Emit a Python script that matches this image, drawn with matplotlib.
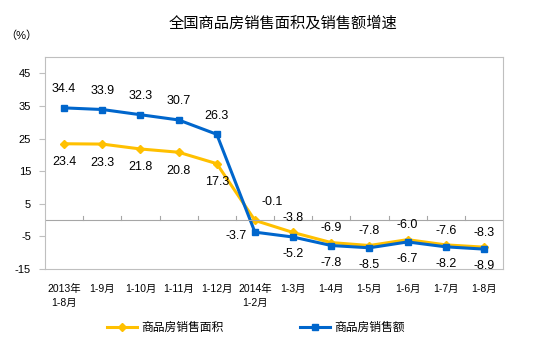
import numpy as np
import matplotlib
matplotlib.use('Agg')
import matplotlib.pyplot as plt

plt.rcParams['font.family'] = ['Liberation Sans', 'Noto Sans CJK SC']

categories = ['2013年\n1-8月', '1-9月', '1-10月', '1-11月', '1-12月', '2014年\n1-2月',
              '1-3月', '1-4月', '1-5月', '1-6月', '1-7月', '1-8月']
area = [23.4, 23.3, 21.8, 20.8, 17.3, -0.1, -3.8, -6.9, -7.8, -6.0, -7.6, -8.3]
sales = [34.4, 33.9, 32.3, 30.7, 26.3, -3.7, -5.2, -7.8, -8.5, -6.7, -8.2, -8.9]
yticks = [45, 35, 25, 15, 5, -5, -15]

yellow = '#FFC000'
blue = '#0066CC'

fig = plt.figure(figsize=(5.46, 3.41), dpi=100)
ax = fig.add_axes([45/546, 1 - 269/341, 458/546, (269 - 57)/341])

x = np.arange(len(categories))
ax.plot(x, area, color=yellow, lw=2.2, marker='D', ms=4.5, label='商品房销售面积')
ax.plot(x, sales, color=blue, lw=2.2, marker='s', ms=5, label='商品房销售额')

for i in range(len(x)):
    if i < 5:
        ax.annotate(f'{sales[i]:.1f}', (x[i], sales[i]), xytext=(0, 9), textcoords='offset points',
                    ha='center', va='bottom', fontsize=9)
        ax.annotate(f'{area[i]:.1f}', (x[i], area[i]), xytext=(0, -9), textcoords='offset points',
                    ha='center', va='top', fontsize=9)
    elif i == 5:
        ax.annotate(f'{area[i]:.1f}', (x[i], area[i]), xytext=(5, 9), textcoords='offset points',
                    ha='left', va='bottom', fontsize=9)
        ax.annotate(f'{sales[i]:.1f}', (x[i], sales[i]), xytext=(-6, -3), textcoords='offset points',
                    ha='right', va='center', fontsize=9)
    else:
        ax.annotate(f'{area[i]:.1f}', (x[i], area[i]), xytext=(0, 6), textcoords='offset points',
                    ha='center', va='bottom', fontsize=9)
        ax.annotate(f'{sales[i]:.1f}', (x[i], sales[i]), xytext=(0, -8), textcoords='offset points',
                    ha='center', va='top', fontsize=9)

ax.set_xlim(-0.5, len(x) - 0.5)
ax.set_ylim(-15, 50)
ax.set_yticks(yticks)
ax.set_yticklabels([str(v) for v in yticks], fontsize=8)
ax.tick_params(axis='y', length=4, color='#BFBFBF', pad=6)

ax.axhline(0, color='#A6A6A6', lw=0.8)
for b in np.arange(0.5, len(x) - 0.5, 1):
    ax.plot([b, b], [0, 1.2], color='#A6A6A6', lw=0.8)

ax.set_xticks(x)
ax.set_xticklabels(categories, fontsize=7.5, linespacing=1.5)
ax.tick_params(axis='x', length=0, pad=11)

for s in ax.spines.values():
    s.set_color('#BFBFBF')
    s.set_linewidth(0.8)

fig.text(283/546, 1 - 23/341, '全国商品房销售面积及销售额增速', ha='center', va='center', fontsize=11)
fig.text(5/546, 1 - 36/341, '（%）', ha='left', va='center', fontsize=8)

fig.legend(loc='center', bbox_to_anchor=(256/546, 1 - 328/341), ncol=2, frameon=False,
           fontsize=8.5, handlelength=2.5, handletextpad=0.4, columnspacing=6.5, markerscale=0.8)

fig.savefig('out.png', dpi=100)
